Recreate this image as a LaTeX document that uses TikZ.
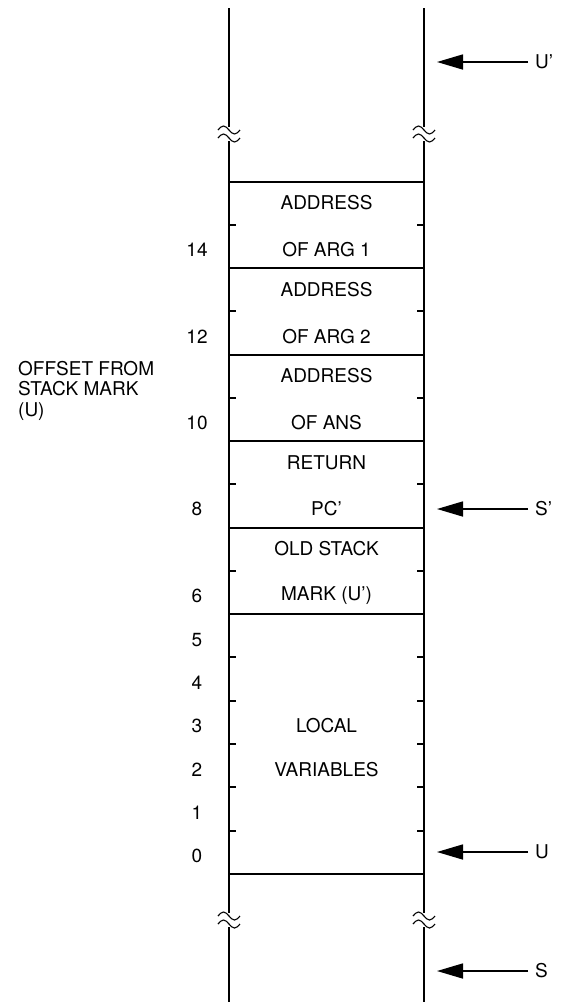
\documentclass[tikz,border=0pt]{standalone}
\usepackage{fontspec}
\setmainfont{TeX Gyre Heros}
\usetikzlibrary{arrows.meta}
\begin{document}
\begin{tikzpicture}[x=1pt,y=-1pt,
  txt/.style={font=\fontsize{19}{21}\selectfont, inner sep=0pt, anchor=center},
  vline/.style={line width=1.8pt},
  hline/.style={line width=1.3pt},
  tick/.style={line width=1.3pt},
  brk/.style={line width=1.1pt},
  arr/.style={line width=1.6pt, -{Triangle[length=26pt,width=15pt]}}]
\useasboundingbox (0,0) rectangle (565,1002);
% vertical lines with breaks
\foreach \x in {229,424}{
  \draw[vline] (\x,8) -- (\x,127);
  \draw[vline] (\x,141) -- (\x,913);
  \draw[vline] (\x,927) -- (\x,1002);
  \draw[brk] (\x-11,130) sin (\x-5.5,126) cos (\x,130) sin (\x+5.5,134) cos (\x+11,130);
  \draw[brk] (\x-11,138) sin (\x-5.5,134) cos (\x,138) sin (\x+5.5,142) cos (\x+11,138);
  \draw[brk] (\x-11,916) sin (\x-5.5,912) cos (\x,916) sin (\x+5.5,920) cos (\x+11,916);
  \draw[brk] (\x-11,924) sin (\x-5.5,920) cos (\x,924) sin (\x+5.5,928) cos (\x+11,924);
}
% horizontal cell borders
\foreach \y in {182,268,355,441,528,614,874}{
  \draw[hline] (229,\y) -- (424,\y);
}
% ticks
\foreach \y in {225,311,398,484,571,657,701,744,787,831}{
  \draw[tick] (229,\y) -- (236,\y);
  \draw[tick] (417,\y) -- (424,\y);
}
% cell texts
\node[txt] (a1) at (326.5,203) {ADDRESS};
\node[txt] (a1b) at (326.5,250) {OF ARG 1};
\node[txt] (a2) at (326.5,290) {ADDRESS};
\node[txt] (a2b) at (326.5,337) {OF ARG 2};
\node[txt] (a3) at (326.5,376) {ADDRESS};
\node[txt] (a3b) at (326.5,423) {OF ANS};
\node[txt] (r1) at (326.5,463) {RETURN};
\node[txt] (r1b) at (326.5,509) {PC'};
\node[txt] (o1) at (326.5,549) {OLD STACK};
\node[txt] (o1b) at (326.5,596) {MARK (U')};
\node[txt] (l1) at (326.5,726) {LOCAL};
\node[txt] (l1b) at (326.5,770) {VARIABLES};
% offsets
\node[txt] (n14) at (197,250) {14};
\node[txt] (n12) at (197,337) {12};
\node[txt] (n10) at (197,423) {10};
\node[txt] (n8) at (197,509) {8};
\node[txt] (n6) at (197,596) {6};
\node[txt] (n5) at (197,640) {5};
\node[txt] (n4) at (197,683) {4};
\node[txt] (n3) at (197,726) {3};
\node[txt] (n2) at (197,770) {2};
\node[txt] (n1) at (197,813) {1};
\node[txt] (n0) at (197,856) {0};
\node[txt, anchor=north west, align=left, font=\fontsize{19}{20.5}\selectfont] (off) at (18,361) {OFFSET FROM\\STACK MARK\\(U)};
% pointers
\node[txt, anchor=west] (Up) at (535,62) {U'};
\node[txt, anchor=west] (Sp) at (535,509) {S'};
\node[txt, anchor=west] (U) at (535,852) {U};
\node[txt, anchor=west] (S) at (535,971) {S};
\coordinate (tUp) at (437,62);
\coordinate (tSp) at (437,509);
\coordinate (tU) at (437,852);
\coordinate (tS) at (437,971);
\draw[arr] ([xshift=-7pt]Up.west) -- (tUp);
\draw[arr] ([xshift=-7pt]Sp.west) -- (tSp);
\draw[arr] ([xshift=-7pt]U.west) -- (tU);
\draw[arr] ([xshift=-7pt]S.west) -- (tS);
\end{tikzpicture}
\end{document}
